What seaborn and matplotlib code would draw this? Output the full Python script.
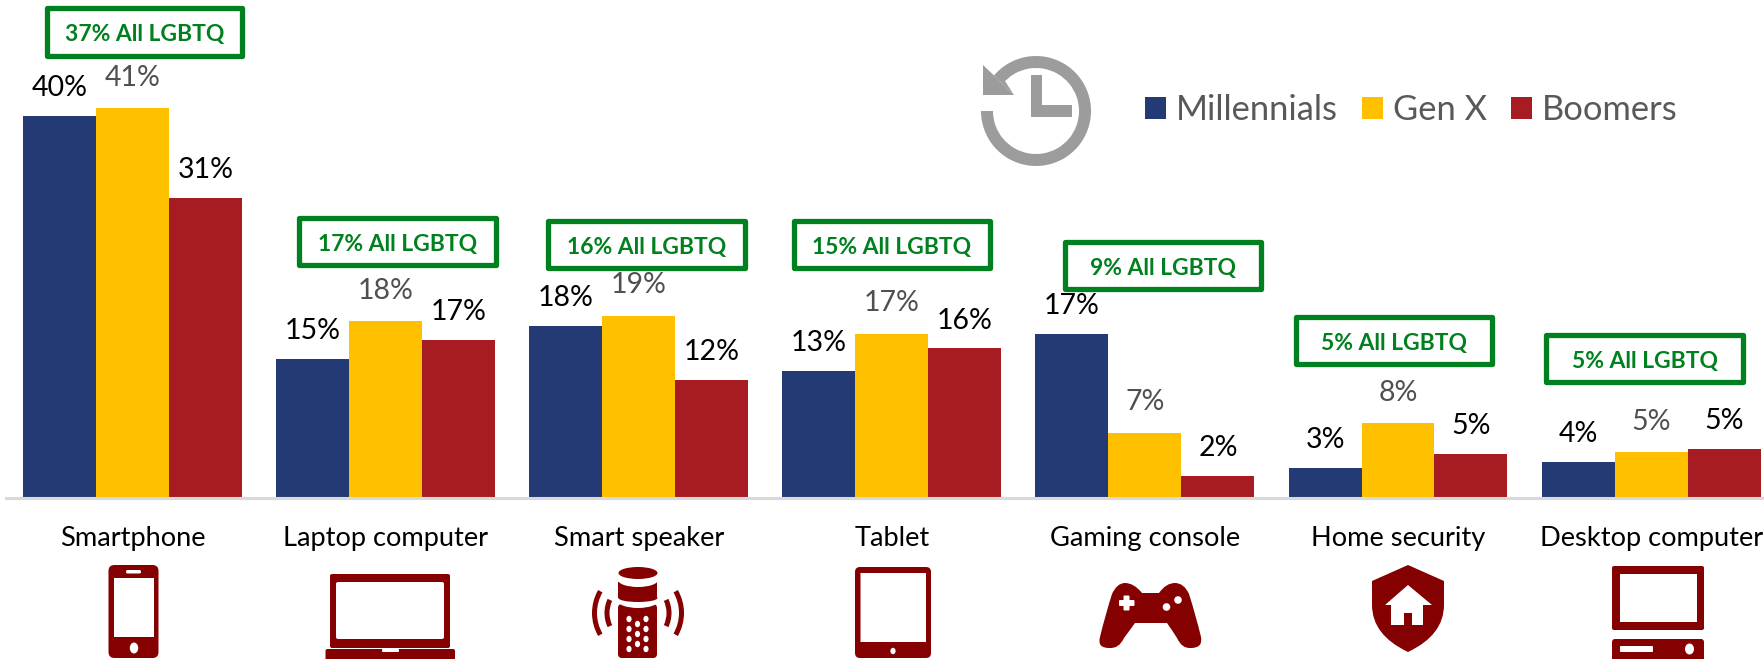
import matplotlib
matplotlib.use("Agg")
import matplotlib.pyplot as plt
import pandas as pd
import seaborn as sns
from matplotlib.patches import Ellipse, FancyBboxPatch, Polygon, PathPatch, Rectangle, Wedge
from matplotlib.path import Path

# Chart data
categories = ["Smartphone", "Laptop computer", "Smart speaker", "Tablet",
              "Gaming console", "Home security", "Desktop computer"]
generations = ["Millennials", "Gen X", "Boomers"]
millennials = [39.8, 14.5, 17.9, 13.2, 17.1, 3.1, 3.75]
gen_x = [40.6, 18.4, 19.0, 17.1, 6.8, 7.8, 4.8]
boomers = [31.3, 16.5, 12.3, 15.6, 2.3, 4.6, 5.1]
millennials_labels = ["40%", "15%", "18%", "13%", "17%", "3%", "4%"]
gen_x_labels = ["41%", "18%", "19%", "17%", "7%", "8%", "5%"]
boomers_labels = ["31%", "17%", "12%", "16%", "2%", "5%", "5%"]
all_lgbtq = [37, 17, 16, 15, 9, 5, 5]

# left, top, right, bottom of the green boxes in image pixels
lgbtq_boxes = [(47, 8, 242, 56), (299, 218, 496, 265), (548, 221, 745, 268), (794, 221, 990, 268),
               (1065, 242, 1261, 289), (1296, 317, 1492, 364), (1546, 335, 1743, 382)]

NAVY = "#243A75"
GOLD = "#FFC000"
RED = "#A61C22"
ICON = "#850000"
GREEN = "#00801F"
GREY = "#9C9C9C"

W, H = 1764, 659
GROUP_PX = 253.1
FIRST_PX = 132.5

sns.set_theme(style="white")
plt.rcParams["font.family"] = ["Lato", "DejaVu Sans"]

df = pd.DataFrame({
    "category": categories * 3,
    "generation": [g for g in generations for _ in categories],
    "value": millennials + gen_x + boomers,
})

fig = plt.figure(figsize=(W / 100, H / 100), dpi=100)
ax = fig.add_axes([6 / W, (H - 498) / H, (W - 6) / W, 498 / H])

sns.barplot(data=df, x="category", y="value", hue="generation", order=categories,
            hue_order=generations, palette=[NAVY, GOLD, RED], width=0.865, gap=0,
            saturation=1, linewidth=0, legend=True, ax=ax)

# pixel scale of the reference: groups 253 px apart, 9.6 px per percent
ax.set_xlim((6 - FIRST_PX) / GROUP_PX, (W - FIRST_PX) / GROUP_PX)
ax.set_ylim(0, 498 / 9.6)
ax.set_xlabel("")
ax.set_ylabel("")
ax.set_yticks([])
ax.tick_params(axis="x", length=0, pad=20.5, labelsize=19.6, labelcolor="black")
sns.despine(ax=ax, left=True)
ax.spines["bottom"].set_color("#D9D9D9")
ax.spines["bottom"].set_linewidth(2.2)

label_sets = [(millennials_labels, "black", 11), (gen_x_labels, "#505050", 12.5), (boomers_labels, "black", 10.5)]
for container, (labels, color, pad) in zip(ax.containers, label_sets):
    ax.bar_label(container, labels=labels, padding=pad, fontsize=20.5, color=color)

handles, names = ax.get_legend_handles_labels()
ax.get_legend().remove()
leg = fig.legend(handles, names, loc="upper left", bbox_to_anchor=(1145 / W, 1 - 94 / H), ncol=3,
                 frameon=False, fontsize=24.8, handlelength=0.6, handleheight=0.6,
                 handletextpad=0.3, columnspacing=0.7, borderpad=0, borderaxespad=0,
                 labelcolor="#595959")

# Overlay in image pixels for the green boxes and the icons
ov = fig.add_axes([0, 0, 1, 1], zorder=5)
ov.set_xlim(0, W)
ov.set_ylim(H, 0)
ov.axis("off")
ov.patch.set_alpha(0)


def rounded(x0, y0, x1, y1, r, color=ICON):
    ov.add_patch(FancyBboxPatch((x0, y0), x1 - x0, y1 - y0, boxstyle=f"round,pad=0,rounding_size={r}",
                                fc=color, ec="none"))


def oval(cx, cy, rx, ry, color=ICON):
    ov.add_patch(Ellipse((cx, cy), 2 * rx, 2 * ry, fc=color, ec="none"))


def poly(points, color=ICON):
    ov.add_patch(Polygon(points, closed=True, fc=color, ec="none"))


def curve(points, color=ICON):
    # points alternate on-curve / control, the first one is on the curve
    codes = [Path.MOVETO] + [Path.CURVE3] * (len(points) - 1)
    ov.add_patch(PathPatch(Path(points, codes), fc=color, ec="none"))


# Green callouts
for pct, (x0, y0, x1, y1) in zip(all_lgbtq, lgbtq_boxes):
    ov.add_patch(Rectangle((x0, y0), x1 - x0, y1 - y0, fc="white", ec=GREEN, lw=3.8, joinstyle="round"))
    ov.text((x0 + x1) / 2, (y0 + y1) / 2 + 3, f"{pct}% All LGBTQ", color=GREEN, fontsize=16.5,
            fontweight="bold", ha="center", va="center")

# Clock with the back arrow
ov.add_patch(Wedge((1036, 111), 55, -500, -180, width=12, fc=GREY, ec="none"))
poly([(983, 65), (983, 95), (1014, 95)], GREY)
poly([(983, 65), (1014, 95), (1003, 78), (994, 76)], GREY)
poly([(1031, 75), (1042, 75), (1042, 105), (1072, 105), (1072, 117), (1031, 117)], GREY)

# Smartphone
rounded(108.5, 565, 158.5, 658, 6)
rounded(114, 578, 154, 637, 0.1, "white")
rounded(126, 570, 141, 573.5, 1.5, "white")
oval(134, 648, 4.2, 5.5, "white")

# Laptop
rounded(330, 574, 450, 648, 2)
rounded(336, 582, 444, 639, 2, "white")
rounded(325.5, 649, 455, 662, 2)
rounded(382, 649, 399, 652, 1, "white")

# Smart speaker
rounded(618, 604, 657, 658, 4)
oval(638, 600, 21, 8, "white")
oval(638, 598, 19.5, 4)
ov.add_patch(Rectangle((618, 582), 39, 16, fc=ICON, ec="none"))
oval(638, 580, 20, 7, "white")
oval(638, 573, 19.5, 6)
for cy in [619, 629, 639, 649]:
    oval(629, cy, 2.6, 3.2, "white")
    oval(646, cy, 2.6, 3.2, "white")
for cy in [624, 634, 644]:
    oval(637.5, cy, 2.6, 3.2, "white")
for flip in [0, 180]:
    ov.add_patch(Wedge((638, 613), 46, flip - 30, flip + 30, width=5, fc=ICON, ec="none"))
    ov.add_patch(Wedge((638, 613), 33.5, flip - 25, flip + 25, width=5, fc=ICON, ec="none"))

# Tablet
rounded(855, 567, 931, 658, 5)
rounded(860.5, 573, 926, 642, 0.1, "white")
oval(893, 651, 2.6, 3.2, "white")

# Gaming console
curve([(1112, 594), (1117, 583), (1125, 583), (1134, 583), (1142, 593), (1150, 593), (1159, 593),
       (1166, 583), (1175, 583), (1184, 583), (1189, 594), (1196, 616), (1201, 637), (1203, 648),
       (1191, 648), (1182, 649), (1177, 638), (1172, 630), (1167, 623), (1151, 623), (1135, 623),
       (1130, 630), (1124, 638), (1119, 649), (1109, 648), (1097, 648), (1100, 637), (1105, 616),
       (1112, 594)])
rounded(1123.5, 595.5, 1129.5, 610.5, 1, "white")
rounded(1119, 600, 1134.5, 606, 1, "white")
oval(1166.5, 607, 3.8, 3.8, "white")
oval(1178, 600, 3.8, 3.8, "white")

# Home security shield
curve([(1408, 565), (1426, 573), (1444, 581), (1444, 593), (1444, 605), (1444, 635), (1408, 652),
       (1372, 635), (1372, 605), (1372, 593), (1372, 581), (1390, 573), (1408, 565)])
poly([(1408, 585), (1432, 605), (1423, 605), (1423, 625), (1412, 625), (1412, 613), (1404, 613),
      (1404, 625), (1391, 625), (1391, 605), (1385, 605)], "white")

# Desktop computer
rounded(1612, 566, 1704, 630, 2)
rounded(1620, 574, 1697, 622, 0.1, "white")
rounded(1612, 639, 1704, 662, 3)
rounded(1620, 646, 1653, 652, 1, "white")
oval(1689.5, 649, 4.5, 5.5, "white")

fig.savefig("out.png", dpi=100)
